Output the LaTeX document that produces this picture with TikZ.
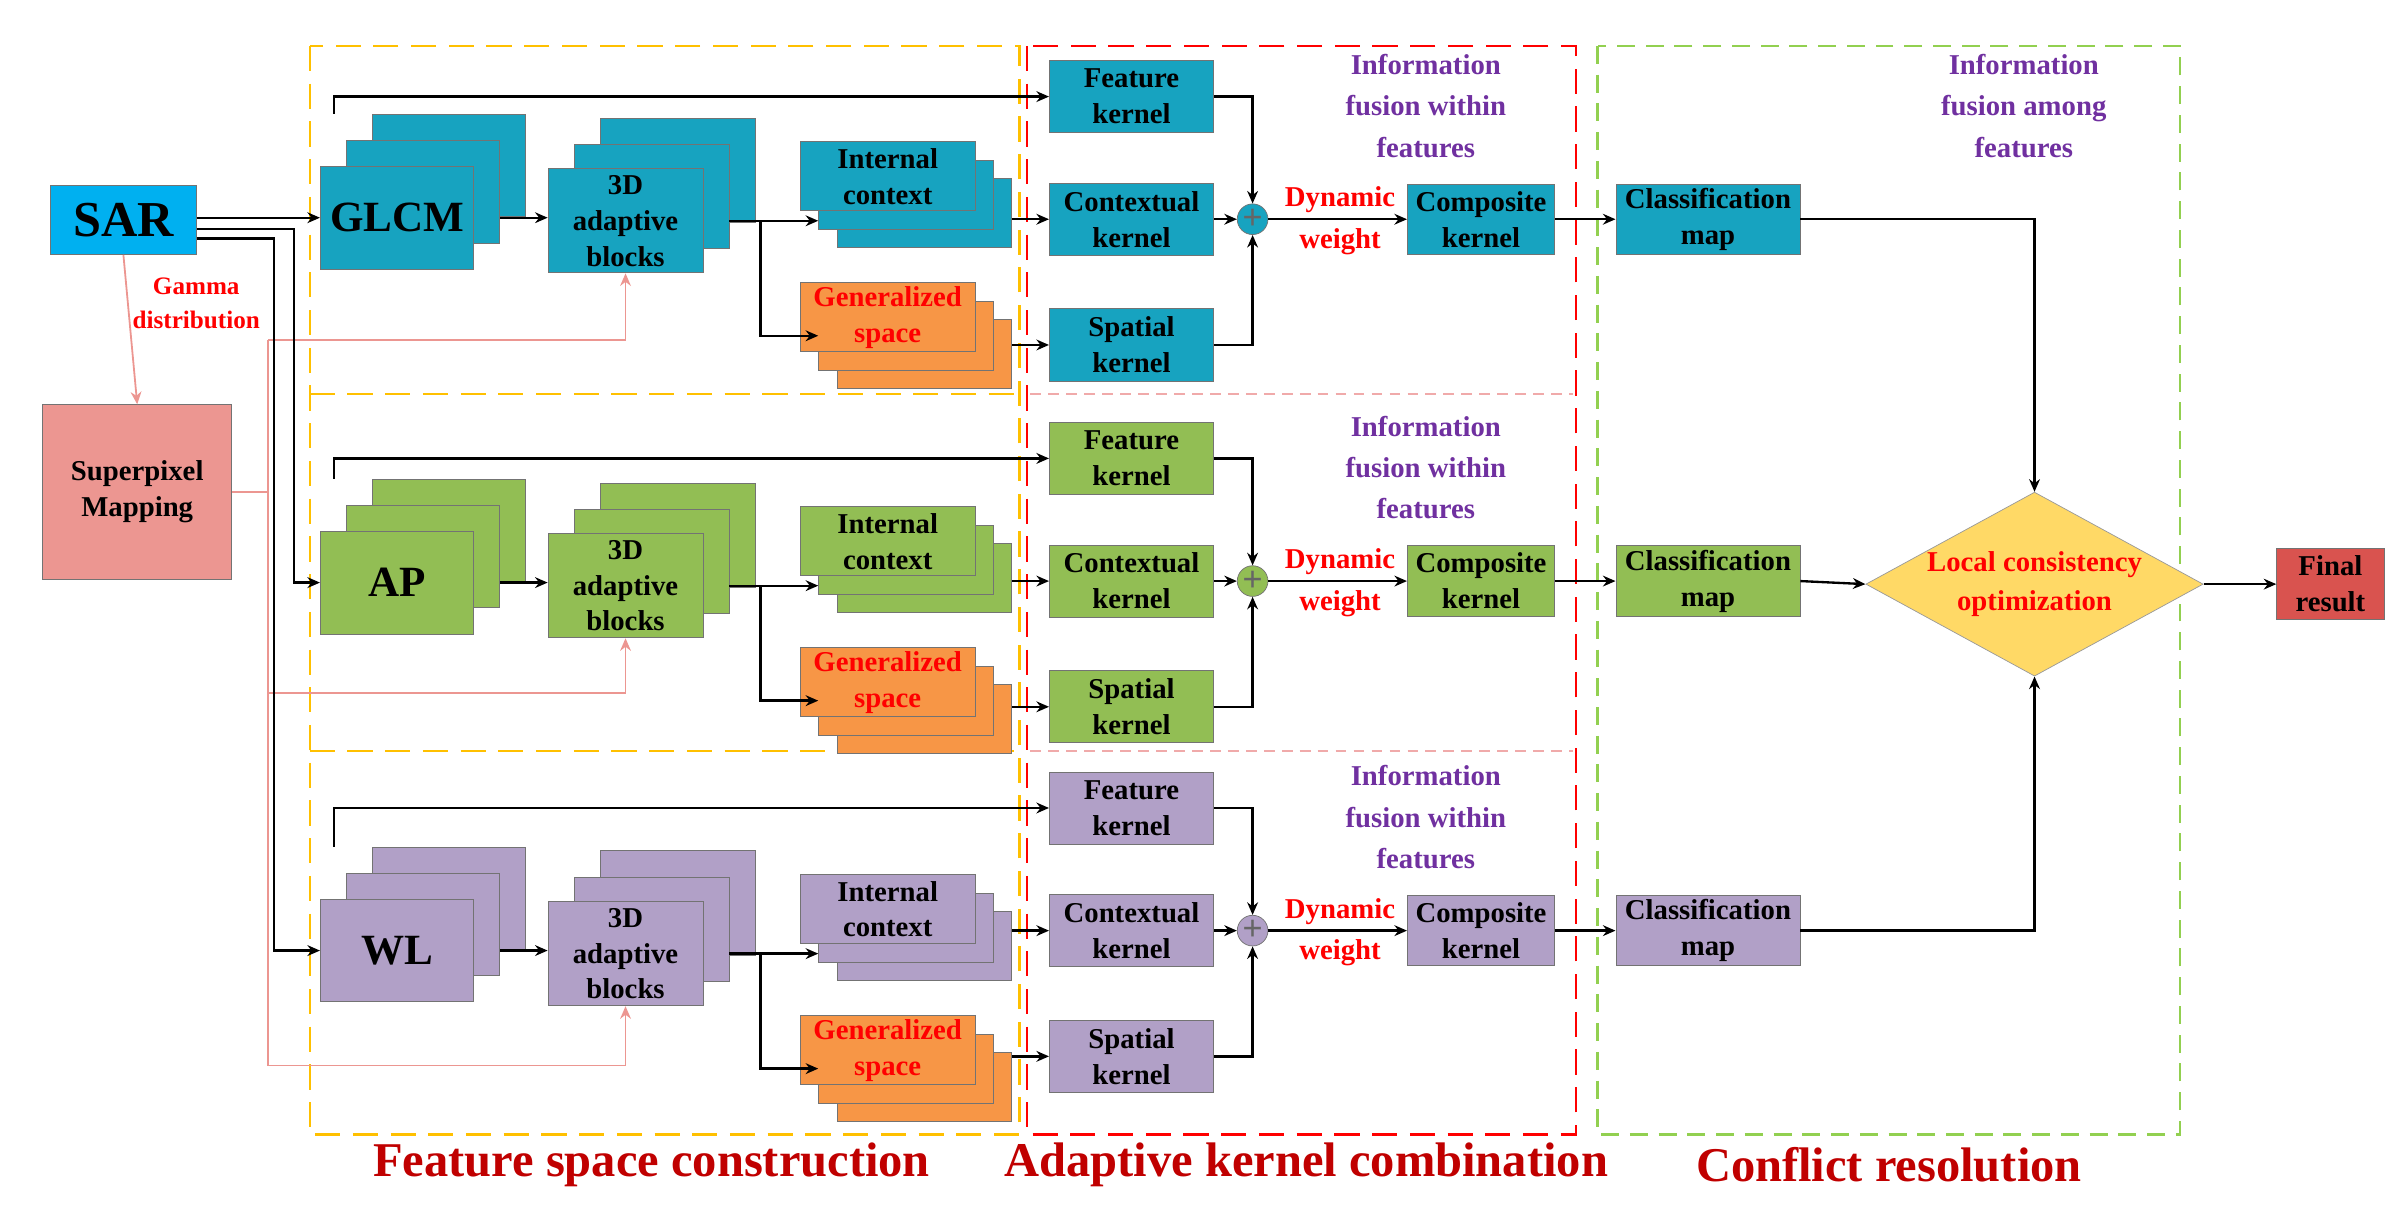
\documentclass[tikz,border=0pt]{standalone}
\usepackage{fontspec}
\setmainfont{Liberation Serif}
\usetikzlibrary{shapes.geometric,arrows.meta,calc}
\definecolor{cb}{RGB}{23,163,192}
\definecolor{cg}{RGB}{146,190,84}
\definecolor{cp}{RGB}{177,160,199}
\definecolor{co}{RGB}{247,150,70}
\definecolor{csar}{RGB}{0,176,240}
\definecolor{csp}{RGB}{236,150,145}
\definecolor{cdia}{RGB}{255,217,102}
\definecolor{cfin}{RGB}{217,83,79}
\definecolor{cpur}{RGB}{112,48,160}
\definecolor{cdred}{RGB}{192,0,0}
\definecolor{cyel}{RGB}{255,192,0}
\definecolor{cgrn}{RGB}{146,208,80}
\definecolor{cpink}{RGB}{240,170,170}
\begin{document}
\begin{tikzpicture}[x=0.03cm,y=-0.03cm,
  sz/.style 2 args={minimum width=#1*0.03cm,minimum height=#2*0.03cm},
  box/.style={draw=black!55,line width=0.5pt,inner sep=1pt,align=center,font=\fontsize{16}{20}\selectfont\bfseries},
  arr/.style={draw=black,line width=1.3pt,-{Stealth[length=7pt,width=6pt]}},
  parr/.style={draw=csp,line width=1pt,-{Stealth[length=7pt,width=6pt]}},
  pline/.style={draw=csp,line width=1pt},
  lab/.style={font=\fontsize{16}{23}\selectfont\bfseries,align=center},
  big/.style={font=\fontsize{27}{30}\selectfont\bfseries,text=cdred}]
\useasboundingbox (0,0) rectangle (1568,788);
% dashed frames
\draw[cyel,line width=1.3pt,dash pattern=on 14pt off 7pt] (202,30) rectangle (665,740);
\draw[cyel,line width=1.3pt,dash pattern=on 14pt off 7pt] (202,257) -- (665,257) (202,490) -- (665,490);
\draw[red,line width=1.3pt,dash pattern=on 14pt off 7pt] (670,30) rectangle (1028,740);
\draw[cpink,line width=1pt,dash pattern=on 6pt off 4pt] (672,257) -- (1026,257) (672,490) -- (1026,490);
\draw[cgrn,line width=1.3pt,dash pattern=on 10pt off 6pt] (1042,30) rectangle (1422,740);
% left nodes
\node[box,sz={95}{45},fill=csar,font=\fontsize{28}{30}\selectfont\bfseries] (sar) at (80.5,143.5) {SAR};
\node[box,sz={123}{114},fill=csp] (sp) at (89.5,321) {Superpixel\\Mapping};
\node[lab,text=red,font=\fontsize{14}{19}\selectfont\bfseries] (gam) at (128,198) {Gamma\\distribution};
\draw[parr] (sar.south) -- (sp.north);
\coordinate (pv1) at (175,222);
\coordinate (pv2) at (175,695);
\draw[pline] (sp.east) -- (sp.east -| pv1);
\draw[pline] (pv1) -- (pv2);
\foreach \r/\c/\L/\R/\P/\lab in {1/cb/0/0/222/GLCM,2/cg/238/236/452/AP,3/cp/478/464/695/WL}{
  % GLCM-like stack
  \node[box,sz={100}{67},fill=\c] (gb\r) at (293,{108+\L}) {};
  \node[box,sz={100}{67},fill=\c] (gm\r) at (276,{125+\L}) {};
  \node[box,sz={100}{67},fill=\c,font=\fontsize{24}{26}\selectfont\bfseries] (gf\r) at (259,{142+\L}) {\lab};
  % 3D adaptive blocks
  \node[box,sz={101}{68},fill=\c] (db\r) at (442,{111+\L}) {};
  \node[box,sz={101}{68},fill=\c] (dm\r) at (425,{128+\L}) {};
  \node[box,sz={101}{68},fill=\c] (df\r) at (408,{144+\L}) {3D\\adaptive\\blocks};
  % internal context
  \node[box,sz={114}{45},fill=\c] (ib\r) at (603,{139+\L}) {};
  \node[box,sz={114}{45},fill=\c] (im\r) at (591,{127+\L}) {};
  \node[box,sz={114}{45},fill=\c] (if\r) at (579,{115+\L}) {Internal\\context};
  % generalized space
  \node[box,sz={114}{45},fill=co] (sb\r) at (603,{231+\L}) {};
  \node[box,sz={114}{45},fill=co] (sm\r) at (591,{219+\L}) {};
  \node[box,sz={114}{45},fill=co,text=red] (sf\r) at (579,{207+\L}) {Generalized\\space};
  % kernels
  \node[box,sz={107}{47},fill=\c] (fk\r) at (738,{63+\R}) {Feature\\kernel};
  \node[box,sz={107}{47},fill=\c] (ck\r) at (738,{143+\R}) {Contextual\\kernel};
  \node[box,sz={107}{47},fill=\c] (sk\r) at (738,{225+\R}) {Spatial\\kernel};
  \node[circle,draw=black!55,fill=\c,minimum size=0.6cm,inner sep=0,font=\fontsize{20}{20}\selectfont\bfseries,text=black!60] (pl\r) at (817,{143+\R}) {+};
  \node[lab,text=red] (dw\r) at (874,{144+\R}) {Dynamic\\weight};
  \node[box,sz={96}{46},fill=\c] (cm\r) at (966,{143+\R}) {Composite\\kernel};
  \node[box,sz={120}{46},fill=\c] (cl\r) at (1114,{143+\R}) {Classification\\map};
  \node[lab,text=cpur] (inf\r) at (930,{69+\R}) {Information\\fusion within\\features};
  % connectors
  \draw[arr] (gm\r.east |- gf\r) -- (df\r.west |- gf\r);
  \coordinate (br\r) at (496,{144+\L});
  \draw[arr] (dm\r.east |- df\r) -- (im\r.west |- df\r);
  \draw[arr] (br\r) |- (sm\r.west);
  \draw[arr] (ib\r.east |- ck\r) -- (ck\r.west);
  \draw[arr] (sb\r.east |- sk\r) -- (sk\r.west);
  \draw[arr] ($(gb\r.north west)+(-25,0)$) |- (fk\r.west);
  \draw[arr] (fk\r.east) -| (pl\r.north);
  \draw[arr] (sk\r.east) -| (pl\r.south);
  \draw[arr] (ck\r.east) -- (pl\r.west);
  \draw[arr] (pl\r.east) -- (cm\r.west);
  \draw[arr] (cm\r.east) -- (cl\r.west);
  \coordinate (pr\r) at (175,\P);
  \draw[parr] (pr\r) -| (df\r.south);
}
\node[lab,text=cpur] (infa) at (1320,69) {Information\\fusion among\\features};
\draw[arr] (sar.east |- gf1) -- (gf1.west);
\draw[arr] ($(sar.east)+(0,6)$) -| ($(gf2.west)+(-17,0)$) -- (gf2.west);
\draw[arr] ($(sar.east)+(0,12)$) -| ($(gf3.west)+(-30,0)$) -- (gf3.west);
% fusion
\node[diamond,draw=black!40,fill=cdia,sz={220}{120},inner sep=0,aspect=1.83,align=center,text=red,font=\fontsize{16}{22}\selectfont\bfseries] (lc) at (1327,381) {Local consistency\\optimization};
\node[box,sz={70}{46},fill=cfin] (fin) at (1520,381) {Final\\result};
\draw[arr] (cl1.east) -| (lc.north);
\draw[arr] (cl3.east) -| (lc.south);
\draw[arr] (cl2.east) -- (lc.west);
\draw[arr] (lc.east) -- (fin.west);
% bottom labels
\node[big] (l1) at (425,760) {Feature space construction};
\node[big] (l2) at (852,760) {Adaptive kernel combination};
\node[big] (l3) at (1232,760) {Conflict resolution};
\end{tikzpicture}
\end{document}
